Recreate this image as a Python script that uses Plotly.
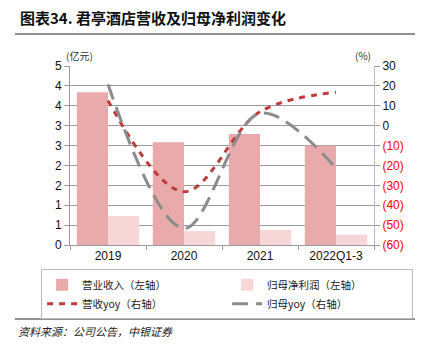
import plotly.graph_objects as go

categories = ["2019", "2020", "2021", "2022Q1-3"]
revenue = [3.84, 2.58, 2.79, 2.50]
net_profit = [0.73, 0.35, 0.38, 0.26]
revenue_yoy = [12.6, -33.2, 7.0, 16.8]
profit_yoy = [20.8, -51.6, 6.2, -21.4]

left_ticks = [0, 0.5, 1, 1.5, 2, 2.5, 3, 3.5, 4, 4.5]
left_labels = ["0", "1", "1", "2", "2", "3", "3", "4", "4", "5"]
right_ticks = [30, 20, 10, 0, -10, -20, -30, -40, -50, -60]
right_labels = ["30", "20", "10", "0", "(10)", "(20)", "(30)", "(40)", "(50)", "(60)"]

CJK = "Noto Sans CJK SC"
LAT = "Liberation Sans"

fig = go.Figure()
fig.add_trace(go.Bar(x=categories, y=revenue, name="营业收入（左轴）",
                     marker=dict(color="#E8AAAA", line=dict(width=0)), yaxis="y"))
fig.add_trace(go.Bar(x=categories, y=net_profit, name="归母净利润（左轴）",
                     marker=dict(color="#F6D6D6", line=dict(width=0)), yaxis="y"))
fig.add_trace(go.Scatter(x=categories, y=revenue_yoy, name="营收yoy（右轴）", mode="lines",
                         line=dict(color="#C0393B", width=3, dash="6px,6px", shape="spline", smoothing=1.0),
                         yaxis="y2"))
fig.add_trace(go.Scatter(x=categories, y=profit_yoy, name="归母yoy（右轴）", mode="lines",
                         line=dict(color="#8C8C8C", width=3, dash="16px,8px", shape="spline", smoothing=1.0),
                         yaxis="y2"))

right_text = [t if not t.startswith("(") else f"<span style='color:#FF0000'>{t}</span>" for t in right_labels]

fig.update_layout(
    width=422, height=353,
    margin=dict(l=70, r=48, t=66, b=108),
    paper_bgcolor="white", plot_bgcolor="white",
    barmode="group", bargap=0.18, bargroupgap=0,
    showlegend=True,
    legend=dict(orientation="h", x=-0.095, y=-0.135, xanchor="left", yanchor="top",
                bordercolor="#BBBBBB", borderwidth=1, entrywidth=140, entrywidthmode="pixels",
                font=dict(family=CJK, size=10.5, color="#222"), tracegroupgap=0,
                itemwidth=30),
    xaxis=dict(showgrid=False, showline=True, linecolor="#999999", linewidth=1,
               ticks="outside", tickcolor="#999999", ticklen=4, tickson="boundaries",
               tickfont=dict(family=LAT, size=12, color="#111")),
    yaxis=dict(range=[0, 4.5], tickvals=left_ticks, ticktext=left_labels,
               showgrid=True, gridcolor="#9A9A9A", gridwidth=1,
               showline=True, linecolor="#999999", linewidth=1,
               ticks="outside", tickcolor="#999999", ticklen=5,
               tickfont=dict(family=LAT, size=12, color="#111"), zeroline=False),
    yaxis2=dict(range=[-60, 30], tickvals=right_ticks, ticktext=right_text,
                overlaying="y", side="right", showgrid=False,
                showline=True, linecolor="#BBBBBB", linewidth=1,
                ticks="outside", tickcolor="#999999", ticklen=5,
                tickfont=dict(family=LAT, size=12, color="#111"), zeroline=False),
)

fig.add_annotation(text="<b>图表34. 君亭酒店营收及归母净利润变化</b>", xref="paper", yref="paper",
                   x=(18 - 70) / 304, y=(245 - 17) / 179, xanchor="left", yanchor="middle",
                   showarrow=False, font=dict(family=CJK, size=15, color="#111"))
fig.add_annotation(text="(亿元)", xref="paper", yref="paper",
                   x=(64 - 70) / 304, y=(245 - 56) / 179, xanchor="left", yanchor="middle",
                   showarrow=False, font=dict(family=CJK, size=10, color="#333"))
fig.add_annotation(text="(%)", xref="paper", yref="paper",
                   x=(353 - 70) / 304, y=(245 - 56) / 179, xanchor="left", yanchor="middle",
                   showarrow=False, font=dict(family=CJK, size=10, color="#333"))
fig.add_annotation(text="<i>资料来源：公司公告，中银证券</i>", xref="paper", yref="paper",
                   x=(16 - 70) / 304, y=(245 - 331) / 179, xanchor="left", yanchor="middle",
                   showarrow=False, font=dict(family=CJK, size=11, color="#222"))
fig.add_shape(type="line", xref="paper", yref="paper",
              x0=(15 - 70) / 304, x1=(415 - 70) / 304, y0=(245 - 34) / 179, y1=(245 - 34) / 179,
              line=dict(color="#222", width=1.2))
fig.add_shape(type="line", xref="paper", yref="paper",
              x0=(15 - 70) / 304, x1=(415 - 70) / 304, y0=(245 - 319) / 179, y1=(245 - 319) / 179,
              line=dict(color="#222", width=1))

fig.write_html("out.html")
